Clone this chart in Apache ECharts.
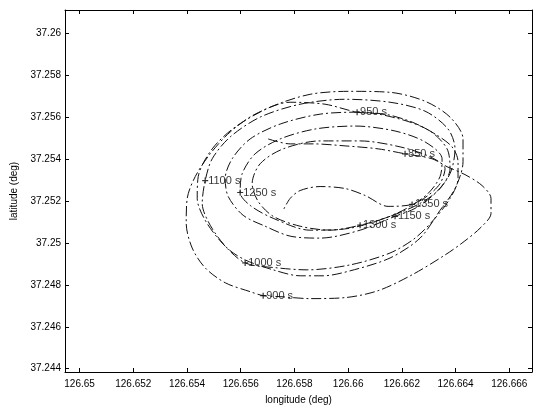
<!DOCTYPE html>
<html><head><meta charset="utf-8">
<script src="https://cdn.jsdelivr.net/npm/echarts@6/dist/echarts.min.js"></script>
<style>html,body{margin:0;padding:0;background:#fff}#c{width:536px;height:410px}</style>
</head><body><div id="c"></div>
<script>
// trajectory (in path order)
const lon = [
126.657021,126.657840,126.658696,126.659886,126.661115,126.662119,126.663123,126.663682,126.664352,126.664984,
126.665319,126.665319,126.664910,126.664240,126.663607,126.662380,126.661115,126.659886,126.658584,126.657468,
126.656835,126.656351,126.655421,126.654677,126.654193,126.653970,126.654007,126.654305,126.654863,126.655607,
126.656537,126.657840,126.659142,126.660333,126.661375,126.662380,126.663235,126.663868,126.664091,126.664091,
126.663793,126.663235,126.662491,126.661561,126.660072,126.658473,126.657356,126.656165,126.655310,126.654677,
126.654380,126.654417,126.654938,126.655793,126.657096,126.658584,126.660072,126.661561,126.662863,126.663793,
126.664277,126.664277,126.663979,126.663421,126.662677,126.661561,126.660072,126.659068,126.658212,126.657207,
126.656165,126.655496,126.654863,126.654566,126.654677,126.654938,126.655607,126.656724,126.658212,126.659886,
126.661561,126.662863,126.663719,126.663979,126.663793,126.663235,126.662491,126.661747,126.660445,126.658956,
126.657840,126.656910,126.656091,126.655533,126.655421,126.655682,126.656351,126.657468,126.658956,126.660445,
126.661933,126.663049,126.663682,126.663793,126.663421,126.662677,126.661561,126.660072,126.658584,126.657207,
126.656351,126.655979,126.656054,126.656537,126.657468,126.658770,126.660258,126.661747,126.662863,126.663496,
126.663421,126.662975,126.662305,126.661561,126.660445,126.659328,126.658212,126.657207,126.656649,126.656426,
126.656724,126.657580,126.658956,126.660445,126.661933,126.663049,126.663607,126.663421,126.662975,126.662380,
126.661487,126.660631,126.659886,126.658956,126.658212,126.657840,126.657580
];
const lat = [
37.254955,37.254719,37.254719,37.254624,37.254482,37.254246,37.254009,37.253631,37.253253,37.252733,
37.252118,37.251409,37.250700,37.249991,37.249423,37.248478,37.247721,37.247390,37.247343,37.247437,
37.247485,37.247674,37.248099,37.248809,37.249754,37.250936,37.252118,37.253158,37.254246,37.255286,
37.256137,37.256704,37.256610,37.256232,37.256137,37.255759,37.255191,37.254577,37.253868,37.253064,
37.252118,37.251172,37.250227,37.249518,37.248950,37.248714,37.248809,37.249045,37.249991,37.251078,
37.252118,37.253158,37.254482,37.255522,37.256468,37.257083,37.257225,37.257177,37.256752,37.255995,
37.254955,37.253868,37.252591,37.251551,37.250227,37.249281,37.248667,37.248430,37.248430,37.248714,
37.249187,37.249754,37.250842,37.251882,37.252969,37.254009,37.255050,37.255995,37.256610,37.256846,
37.256704,37.256279,37.255428,37.254482,37.253300,37.252355,37.251645,37.251267,37.250605,37.250227,
37.250321,37.250794,37.251314,37.252213,37.253064,37.254009,37.254955,37.255664,37.256137,37.256232,
37.255901,37.255333,37.254482,37.253537,37.252591,37.251882,37.251267,37.250700,37.250605,37.251172,
37.251787,37.252402,37.253300,37.254246,37.254955,37.255428,37.255570,37.255333,37.254813,37.254009,
37.253158,37.252355,37.251740,37.251267,37.250842,37.250605,37.250794,37.251267,37.251976,37.252827,
37.253773,37.254482,37.254861,37.254861,37.254577,37.254104,37.253537,37.252827,37.252260,37.251834,
37.251740,37.252260,37.252591,37.252686,37.252496,37.252118,37.251551
];
// time labels
const labelText = ['850 s','900 s','950 s','1000 s','1100 s','1150 s','1250 s','1300 s','1350 s'];
const labelLon = [126.662119,126.656835,126.660333,126.656165,126.654677,126.661747,126.655979,126.660445,126.662380];
const labelLat = [37.254246,37.247485,37.256232,37.249045,37.252969,37.251267,37.252402,37.250842,37.251834];
// axes
const xTicks = [126.65,126.652,126.654,126.656,126.658,126.66,126.662,126.664,126.666];
const xTickLabels = ['126.65','126.652','126.654','126.656','126.658','126.66','126.662','126.664','126.666'];
const yTicks = [37.244,37.246,37.248,37.25,37.252,37.254,37.256,37.258,37.26];
const yTickLabels = ['37.244','37.246','37.248','37.25','37.252','37.254','37.256','37.258','37.26'];
const xRange = [126.649457, 126.666845];
const yRange = [37.243844, 37.261102];

const font = 'Liberation Sans, Arial, sans-serif';
function fmt(ticks, labels){ return v => { const i = ticks.findIndex(t => Math.abs(t - v) < 1e-7); return i >= 0 ? labels[i] : ''; }; }
const axLine = {show:true, lineStyle:{color:'#000', width:1}};
function xAx(pos, showLab){
  return {type:'value', position:pos, min:xRange[0], max:xRange[1], axisLine:axLine,
    name: showLab ? 'longitude (deg)' : '', nameLocation:'middle', nameGap:23,
    nameTextStyle:{fontFamily:font, fontSize:10, color:'#000'},
    axisTick:{show:true, inside:true, length:4, customValues:xTicks, lineStyle:{color:'#000'}},
    axisLabel:{show:showLab, customValues:xTicks, formatter:fmt(xTicks,xTickLabels), fontFamily:font, fontSize:10, color:'#000', margin:7},
    splitLine:{show:false}};
}
function yAx(pos, showLab){
  return {type:'value', position:pos, min:yRange[0], max:yRange[1], axisLine:axLine,
    name: showLab ? 'latitude (deg)' : '', nameLocation:'middle', nameGap:38, nameRotate:90,
    nameTextStyle:{fontFamily:font, fontSize:10, color:'#000'},
    axisTick:{show:true, inside:true, length:4, customValues:yTicks, lineStyle:{color:'#000'}},
    axisLabel:{show:showLab, customValues:yTicks, formatter:fmt(yTicks,yTickLabels), fontFamily:font, fontSize:10, color:'#000', margin:4},
    splitLine:{show:false}};
}
const chart = echarts.init(document.getElementById('c'), null, {renderer:'canvas'});
chart.setOption({
  animation:false,
  backgroundColor:'#fff',
  grid:{left:65, top:10, width:467, height:365},
  xAxis:[xAx('bottom', true), xAx('top', false)],
  yAxis:[yAx('left', true), yAx('right', false)],
  series:[
    {type:'line', data: lon.map((x,i)=>[x,lat[i]]), showSymbol:false, smooth:0.3,
     lineStyle:{color:'#111', width:1, type:[10,3,2,3]}},
    {type:'scatter', data: labelLon.map((x,i)=>[x,labelLat[i]]),
     symbol:'path://M4,0H6V4H10V6H6V10H4V6H0V4H4Z', symbolSize:6,
     itemStyle:{color:'#000'},
     label:{show:true, position:'right', distance:0, formatter:p=>labelText[p.dataIndex],
       fontFamily:font, fontSize:11, color:'#000'}}
  ]
});
</script></body></html>
